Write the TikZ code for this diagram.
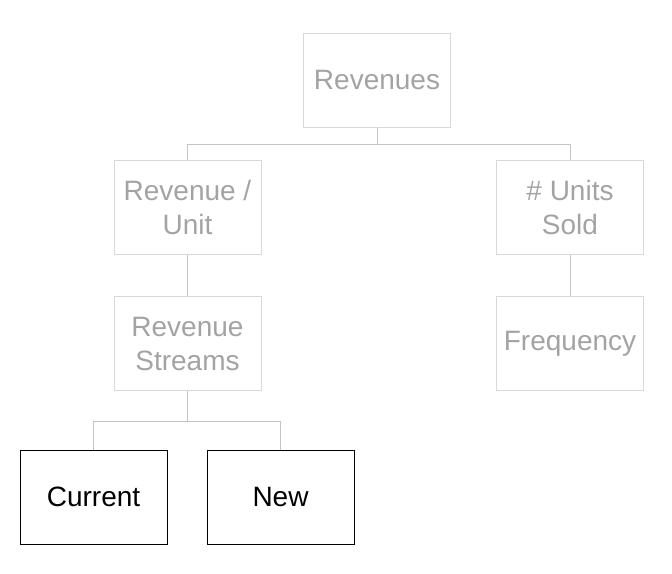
\documentclass[tikz,border=0pt]{standalone}
\usepackage{fontspec}
\setmainfont{Liberation Sans}
\usepackage{xcolor}
\usetikzlibrary{positioning}
\definecolor{fadetext}{HTML}{A3A3A3}
\definecolor{fadeline}{HTML}{D9D9D9}
\definecolor{linkgray}{HTML}{C4C4C4}

\begin{document}
\begin{tikzpicture}[
  x=0.5pt, y=-0.5pt,
  font=\fontsize{14}{17}\selectfont,
  box/.style={draw=fadeline, text=fadetext, line width=0.5pt, align=center,
              minimum width=73.5pt, minimum height=47pt, inner sep=2pt},
  leaf/.style={draw=black, text=black, line width=0.5pt, align=center,
               minimum width=73.5pt, minimum height=47pt, inner sep=2pt},
  link/.style={draw=linkgray, line width=0.5pt}
]
\useasboundingbox (0,0) rectangle (672,573);
\node[box] (rev) at (377,80) {Revenues};
\node[box] (perunit) at (187.5,207.5) {Revenue /\\Unit};
\node[box] (sold) at (570,207.5) {\# Units\\Sold};
\node[box] (streams) at (187.5,343.5) {Revenue\\Streams};
\node[box] (freq) at (570,343.5) {Frequency};
\node[leaf] (current) at (93.5,497) {Current};
\node[leaf] (new) at (280.5,497) {New};
\draw[link] (rev.south) -- ++(0,17) -| (perunit.north);
\draw[link] (rev.south) -- ++(0,17) -| (sold.north);
\draw[link] (perunit.south) -- (streams.north);
\draw[link] (sold.south) -- (freq.north);
\draw[link] (streams.south) -- ++(0,30) -| (current.north);
\draw[link] (streams.south) -- ++(0,30) -| (new.north);
\end{tikzpicture}
\end{document}
